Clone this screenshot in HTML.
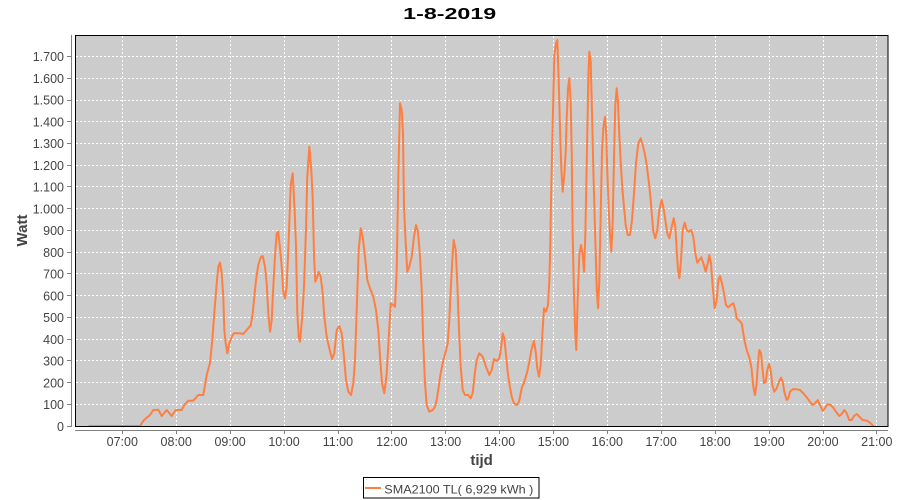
<!DOCTYPE html>
<html>
<head>
<meta charset="utf-8">
<style>
html,body{margin:0;padding:0;background:#fff;}
svg{display:block;}
text{font-family:"Liberation Sans",sans-serif;}
</style>
</head>
<body>
<svg width="900" height="500" viewBox="0 0 900 500" xmlns="http://www.w3.org/2000/svg">
<rect x="0" y="0" width="900" height="500" fill="#ffffff"/>
<!-- title -->
<text x="449.7" y="19" text-anchor="middle" font-size="16" font-weight="bold" fill="#000" textLength="93" lengthAdjust="spacingAndGlyphs">1-8-2019</text>
<!-- plot background -->
<rect x="75.5" y="35.5" width="812.5" height="391" fill="#cccccc"/>
<!-- grid -->
<g stroke="#ffffff" stroke-width="1" stroke-dasharray="2,2">
<line x1="122.5" y1="36" x2="122.5" y2="426"/>
<line x1="176.5" y1="36" x2="176.5" y2="426"/>
<line x1="230.5" y1="36" x2="230.5" y2="426"/>
<line x1="284.5" y1="36" x2="284.5" y2="426"/>
<line x1="338.5" y1="36" x2="338.5" y2="426"/>
<line x1="391.5" y1="36" x2="391.5" y2="426"/>
<line x1="445.5" y1="36" x2="445.5" y2="426"/>
<line x1="499.5" y1="36" x2="499.5" y2="426"/>
<line x1="553.5" y1="36" x2="553.5" y2="426"/>
<line x1="607.5" y1="36" x2="607.5" y2="426"/>
<line x1="661.5" y1="36" x2="661.5" y2="426"/>
<line x1="715.5" y1="36" x2="715.5" y2="426"/>
<line x1="769.5" y1="36" x2="769.5" y2="426"/>
<line x1="823.5" y1="36" x2="823.5" y2="426"/>
<line x1="876.5" y1="36" x2="876.5" y2="426"/>
<line x1="76" y1="404.5" x2="888" y2="404.5"/>
<line x1="76" y1="382.5" x2="888" y2="382.5"/>
<line x1="76" y1="360.5" x2="888" y2="360.5"/>
<line x1="76" y1="339.5" x2="888" y2="339.5"/>
<line x1="76" y1="317.5" x2="888" y2="317.5"/>
<line x1="76" y1="295.5" x2="888" y2="295.5"/>
<line x1="76" y1="273.5" x2="888" y2="273.5"/>
<line x1="76" y1="252.5" x2="888" y2="252.5"/>
<line x1="76" y1="230.5" x2="888" y2="230.5"/>
<line x1="76" y1="208.5" x2="888" y2="208.5"/>
<line x1="76" y1="186.5" x2="888" y2="186.5"/>
<line x1="76" y1="165.5" x2="888" y2="165.5"/>
<line x1="76" y1="143.5" x2="888" y2="143.5"/>
<line x1="76" y1="121.5" x2="888" y2="121.5"/>
<line x1="76" y1="100.5" x2="888" y2="100.5"/>
<line x1="76" y1="78.5" x2="888" y2="78.5"/>
<line x1="76" y1="56.5" x2="888" y2="56.5"/>
</g>
<!-- data -->
<polyline fill="none" stroke="#ff7f40" stroke-width="2" stroke-linejoin="round" stroke-linecap="round" points="89.3,426 140,426 144,420 150,415 153.3,410 158.3,409.7 161.7,416 166.7,410 171.7,416 175.7,410 181.7,410 184.3,405 188.3,400.7 193.3,400.7 198.3,395 203.3,395 206.7,375 210,363 212.3,340 214.3,313.3 216.7,283.3 218.3,266.7 220,262.7 221.7,273.3 223.3,296.7 224.3,330 225.7,343.3 227.3,353.3 229.3,343.3 231.7,336.7 234,333.3 240,333.3 243.3,334 246.7,330 250.7,325.3 252.7,313.3 254,300 256,280 258.3,265 260.7,257.3 262.7,256 265,266.7 266.7,283.3 268.3,313.3 270,331.7 271.7,320 273.3,286.7 275,256.7 276.7,233.3 278.3,231.7 280,248.3 281.7,266.7 283.3,291.7 285,298.3 286.7,286.7 288.7,240 290.7,185 292.7,173.3 294.7,211.7 296,246.7 297.3,313.3 298.7,336.7 300,341.7 302,320 304,286.7 306,228.3 307.3,176.7 309.3,146.7 311.3,170 312.7,198.3 314,255 315.3,281.7 317.3,276.7 318.7,271.7 320.7,276.7 322.7,293.3 324.3,316.7 326.7,336.7 329.3,348.3 332,359 334.3,353.3 336.7,330 339.3,326 341.7,333.3 344,356.7 346,380 348.3,391.7 351,395 353.3,383.3 355,360 356.7,310 358.7,250 360.7,228.3 362.7,236.7 365,256.7 367.3,280 370,288.3 373.3,296.7 376,310 378.3,330 380,356.7 382,383.3 384.3,393.3 386.7,373.3 389,333.3 390.7,303.3 393.3,305 395,306.7 396.7,270 398.3,176.7 400,103.3 401.7,110 403,133.3 404,206.7 405.7,243.3 407.3,271.7 409.3,266.7 411.7,256.7 414,236.7 416,225 418,231.7 420,256.7 421.7,290 423.3,343.3 425,383.3 426.7,405 429.3,411.7 432.7,410 435,406.7 436.7,400 438.7,386.7 440.7,373.3 443.3,360 445.7,351.7 447.7,343.3 449.3,320 450.7,290 452.3,260 453.7,240 455.7,250 457.3,283.3 459,330 460.7,366.7 462.7,390 465,395 468.3,395 470.7,398.3 472.7,393 475,371.7 476.7,360 479.3,353.3 482.7,356.7 486,366.7 489.3,375 491.7,370 494,359 496.7,361 499.3,358.3 501,348.3 502.7,333.3 504.3,338.3 506,355 507.7,371.7 509.3,383.3 511.7,396.7 514,403.3 516.7,405 519,401.7 521.7,388.3 524.3,381.7 527.3,371.7 530,358.3 531.7,348.3 534,341 535.7,351.7 537.3,368.3 539,376.7 540.7,365 542.3,335 544,308.3 546,311.7 548,305 549.3,281.7 550.3,245 551,201.7 552,155 553,111.7 554.3,55 556,43.3 557.3,40 558.3,68.3 559.3,101.7 560.3,138.3 561.3,168.3 562.7,191.7 564.3,175 565.7,151.7 566.7,118.3 568,88.3 569.3,78.3 570.7,101.7 571.7,151.7 572.7,235 574,295 575.3,335 576.3,350 577.7,298.3 579.3,255 581,245 582.7,255 584,271.7 585.3,235 586.3,185 587.3,135 588.3,78.3 589.3,51.7 590.7,61.7 592,111.7 593.3,168.3 594.7,218.3 595.7,251.7 596.7,288.3 598,308.3 599.3,281.7 600.7,215 602,151.7 603.3,128.3 605,116.7 606.3,135 607.3,171.7 608.7,208.3 610,235 611.3,251.7 612.7,221.7 614,158.3 615.3,105 616.7,88.3 618,101.7 619.3,135 620.7,161.7 622.3,188.3 624,206.7 625.7,225 627.7,235 630,235 632,220 634,193.3 636,163.3 638.3,143.3 640.7,138.3 642.7,145 644.7,153.3 646.7,165 649,183.3 650.7,200 652,216.7 653.3,231.7 655.3,238.3 657.3,230 659.3,210 661.7,200 663.3,206.7 665.3,220 667.3,233.3 669.3,238.3 671.7,226.7 673.7,218.3 675.3,226.7 676.7,250 678,270 679.3,278.3 681,260 682.7,230 684.7,222.7 686.7,230 688.7,231.7 691.3,230 693.3,236.7 695.3,253.3 697.3,262.7 699.3,260 701.3,257.3 703.3,263.3 705.7,271.7 707.7,263.3 709.3,255 711,263.3 712.7,286.7 714.7,308.3 716.7,300 718.3,280 720,276 722,283.3 724,293.3 726,305 728.3,307.3 730.7,305 733.3,303.3 735.3,310 736.7,318.3 739.3,320.7 741.7,323.3 743.3,333.3 745,343 747.3,352 749.3,357 751.5,368 753.3,386.7 755,395 756.7,383.3 757.7,366.7 759.3,350 761,353.3 762.3,366.7 764,383.3 765.7,381.7 767.3,370 769,364 770.7,370 772.3,385 774.3,391.7 776.7,388.3 779,381.7 781,377.7 782.7,381.7 784.3,391.7 786.7,400 788.3,398.3 790,391.7 792.7,389.3 796.7,389.3 800,390 803.3,393.3 806.7,397.3 810,401.7 812.7,405 815,403.3 817.7,400 820,405 822.7,410.7 825,408.3 827.3,404.3 830.7,405 833.3,407.7 836,411.7 839.3,416 841.7,414 844.3,410 846.7,413.3 849.3,420 851.7,420 854,416 856.7,414 859.3,416.7 862.7,420 866.7,420.7 870,422.7 872.7,425.3"/>
<!-- plot border -->
<rect x="75.5" y="35.5" width="812.5" height="391" fill="none" stroke="#000" stroke-width="1"/>
<!-- y axis -->
<line x1="71.5" y1="35" x2="71.5" y2="427" stroke="#808080" stroke-width="1"/>
<g stroke="#808080" stroke-width="1">
<line x1="67" y1="426.5" x2="71" y2="426.5"/>
<line x1="67" y1="404.5" x2="71" y2="404.5"/>
<line x1="67" y1="382.5" x2="71" y2="382.5"/>
<line x1="67" y1="360.5" x2="71" y2="360.5"/>
<line x1="67" y1="339.5" x2="71" y2="339.5"/>
<line x1="67" y1="317.5" x2="71" y2="317.5"/>
<line x1="67" y1="295.5" x2="71" y2="295.5"/>
<line x1="67" y1="273.5" x2="71" y2="273.5"/>
<line x1="67" y1="252.5" x2="71" y2="252.5"/>
<line x1="67" y1="230.5" x2="71" y2="230.5"/>
<line x1="67" y1="208.5" x2="71" y2="208.5"/>
<line x1="67" y1="186.5" x2="71" y2="186.5"/>
<line x1="67" y1="165.5" x2="71" y2="165.5"/>
<line x1="67" y1="143.5" x2="71" y2="143.5"/>
<line x1="67" y1="121.5" x2="71" y2="121.5"/>
<line x1="67" y1="100.5" x2="71" y2="100.5"/>
<line x1="67" y1="78.5" x2="71" y2="78.5"/>
<line x1="67" y1="56.5" x2="71" y2="56.5"/>
</g>
<g font-size="12.5" fill="#444444" text-anchor="end">
<text x="64" y="431">0</text>
<text x="64" y="409">100</text>
<text x="64" y="387.5">200</text>
<text x="64" y="365.5">300</text>
<text x="64" y="344">400</text>
<text x="64" y="322">500</text>
<text x="64" y="300.5">600</text>
<text x="64" y="278.5">700</text>
<text x="64" y="257">800</text>
<text x="64" y="235">900</text>
<text x="64" y="213.5">1.000</text>
<text x="64" y="191.5">1.100</text>
<text x="64" y="170">1.200</text>
<text x="64" y="148">1.300</text>
<text x="64" y="126.5">1.400</text>
<text x="64" y="104.5">1.500</text>
<text x="64" y="83">1.600</text>
<text x="64" y="61">1.700</text>
</g>
<text transform="translate(27,230.5) rotate(-90)" text-anchor="middle" font-size="15" font-weight="bold" fill="#444444">Watt</text>
<!-- x axis -->
<line x1="75" y1="430.5" x2="888" y2="430.5" stroke="#808080" stroke-width="1"/>
<g stroke="#808080" stroke-width="1">
<line x1="122.5" y1="431" x2="122.5" y2="434"/>
<line x1="176.5" y1="431" x2="176.5" y2="434"/>
<line x1="230.5" y1="431" x2="230.5" y2="434"/>
<line x1="284.5" y1="431" x2="284.5" y2="434"/>
<line x1="338.5" y1="431" x2="338.5" y2="434"/>
<line x1="391.5" y1="431" x2="391.5" y2="434"/>
<line x1="445.5" y1="431" x2="445.5" y2="434"/>
<line x1="499.5" y1="431" x2="499.5" y2="434"/>
<line x1="553.5" y1="431" x2="553.5" y2="434"/>
<line x1="607.5" y1="431" x2="607.5" y2="434"/>
<line x1="661.5" y1="431" x2="661.5" y2="434"/>
<line x1="715.5" y1="431" x2="715.5" y2="434"/>
<line x1="769.5" y1="431" x2="769.5" y2="434"/>
<line x1="823.5" y1="431" x2="823.5" y2="434"/>
<line x1="876.5" y1="431" x2="876.5" y2="434"/>
</g>
<g font-size="12.5" fill="#444444" text-anchor="middle">
<text x="122.3" y="446">07:00</text>
<text x="176.2" y="446">08:00</text>
<text x="230.1" y="446">09:00</text>
<text x="284" y="446">10:00</text>
<text x="337.9" y="446">11:00</text>
<text x="391.8" y="446">12:00</text>
<text x="445.6" y="446">13:00</text>
<text x="499.5" y="446">14:00</text>
<text x="553.4" y="446">15:00</text>
<text x="607.3" y="446">16:00</text>
<text x="661.2" y="446">17:00</text>
<text x="715.1" y="446">18:00</text>
<text x="769" y="446">19:00</text>
<text x="822.9" y="446">20:00</text>
<text x="876.8" y="446">21:00</text>
</g>
<text x="481.6" y="465" text-anchor="middle" font-size="15" font-weight="bold" fill="#444444">tijd</text>
<!-- legend -->
<rect x="363.5" y="477.5" width="175.5" height="20.5" fill="#fff" stroke="#000" stroke-width="1"/>
<line x1="365" y1="488" x2="381" y2="488" stroke="#ff7f40" stroke-width="2"/>
<text x="384.3" y="493.5" font-size="12" fill="#444444" textLength="149" lengthAdjust="spacingAndGlyphs">SMA2100 TL( 6,929 kWh )</text>
</svg>
</body>
</html>
